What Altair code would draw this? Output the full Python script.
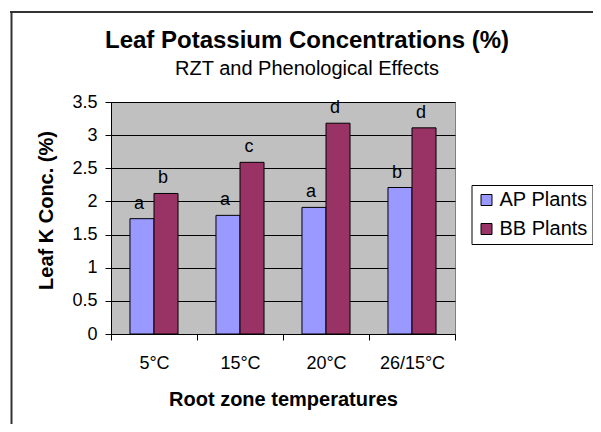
import altair as alt
import pandas as pd

# ---- data ----
temps = ["5°C", "15°C", "20°C", "26/15°C"]
series = ["AP Plants", "BB Plants"]
ap_values = [1.74, 1.79, 1.91, 2.21]
bb_values = [2.12, 2.59, 3.18, 3.11]
ap_letters = ["a", "a", "a", "b"]
bb_letters = ["b", "c", "d", "d"]
y_ticks = [0, 0.5, 1, 1.5, 2, 2.5, 3, 3.5]
colors = ["#9999FF", "#993366"]

rows = []
for i, t in enumerate(temps):
    rows.append({"temp": t, "series": series[0], "value": ap_values[i], "letter": ap_letters[i]})
    rows.append({"temp": t, "series": series[1], "value": bb_values[i], "letter": bb_letters[i]})
df = pd.DataFrame(rows)

W, H = 344, 232
FONT = "Liberation Sans"

x_enc = alt.X(
    "temp:N", sort=temps,
    scale=alt.Scale(paddingInner=0, paddingOuter=0),
    axis=alt.Axis(title="Root zone temperatures", labelAngle=0, tickBand="extent",
                  grid=False, tickSize=6, labelPadding=14, titlePadding=17),
)
xoff = alt.XOffset("series:N", sort=series,
                   scale=alt.Scale(paddingInner=0, paddingOuter=0.79))
y_enc = alt.Y(
    "value:Q",
    scale=alt.Scale(domain=[0, 3.5], nice=False, zero=True),
    axis=alt.Axis(title="Leaf K Conc. (%)", values=y_ticks, format="~g", grid=True,
                  tickSize=6, labelPadding=8, titlePadding=15, titleY=108),
)
color = alt.Color(
    "series:N", sort=series,
    scale=alt.Scale(domain=series, range=colors),
    legend=alt.Legend(
        title=None, orient="none", legendX=360.5, legendY=83,
        symbolType="square", symbolSize=121, symbolStrokeColor="black",
        symbolStrokeWidth=1, symbolOpacity=1,
        labelFont=FONT, labelFontSize=20, labelColor="black", labelOffset=3,
        fillColor="white", strokeColor="black", padding=5, rowPadding=9,
    ),
)

one = pd.DataFrame({"k": [0]})
frame_top = alt.Chart(one).mark_rule(stroke="#333333", strokeWidth=2).encode(
    x=alt.value(-101), x2=alt.value(W + 300), y=alt.value(-90)
)
frame_left = alt.Chart(one).mark_rule(stroke="#333333", strokeWidth=2).encode(
    x=alt.value(-99.5), y=alt.value(-90), y2=alt.value(H + 300)
)

bars = alt.Chart(df).mark_bar(stroke="black", strokeWidth=1, opacity=1).encode(
    x=x_enc, xOffset=xoff, y=y_enc, color=color
)

letters = alt.Chart(df).mark_text(
    baseline="alphabetic", dy=-10, dx=-3, fontSize=18, font=FONT, color="black"
).encode(x=x_enc, xOffset=xoff, y=y_enc, text="letter:N")

chart = alt.layer(frame_top, frame_left, bars, letters).properties(
    width=W, height=H,
    padding={"left": 103, "top": 94, "right": 138, "bottom": 90},
    autosize=alt.AutoSizeParams(type="none"),
    title=alt.Title(
        "Leaf Potassium Concentrations (%)",
        subtitle="RZT and Phenological Effects",
        font=FONT, fontSize=24, fontWeight="bold", color="black",
        subtitleFont=FONT, subtitleFontSize=20, subtitleColor="black",
        anchor="middle", frame="group", dx=24, offset=-67.7, subtitlePadding=6,
    ),
).configure_view(
    fill="#C0C0C0", stroke="#808080", strokeWidth=1
).configure_axis(
    domainColor="black", tickColor="black", gridColor="black", gridWidth=1,
    gridOpacity=1, domainOpacity=1, tickOpacity=1,
    labelFont=FONT, labelFontSize=18, labelColor="black",
    titleFont=FONT, titleFontSize=20, titleFontWeight="bold", titleColor="black",
)

chart.save("out.html", embed_options={"renderer": "svg", "actions": False})
